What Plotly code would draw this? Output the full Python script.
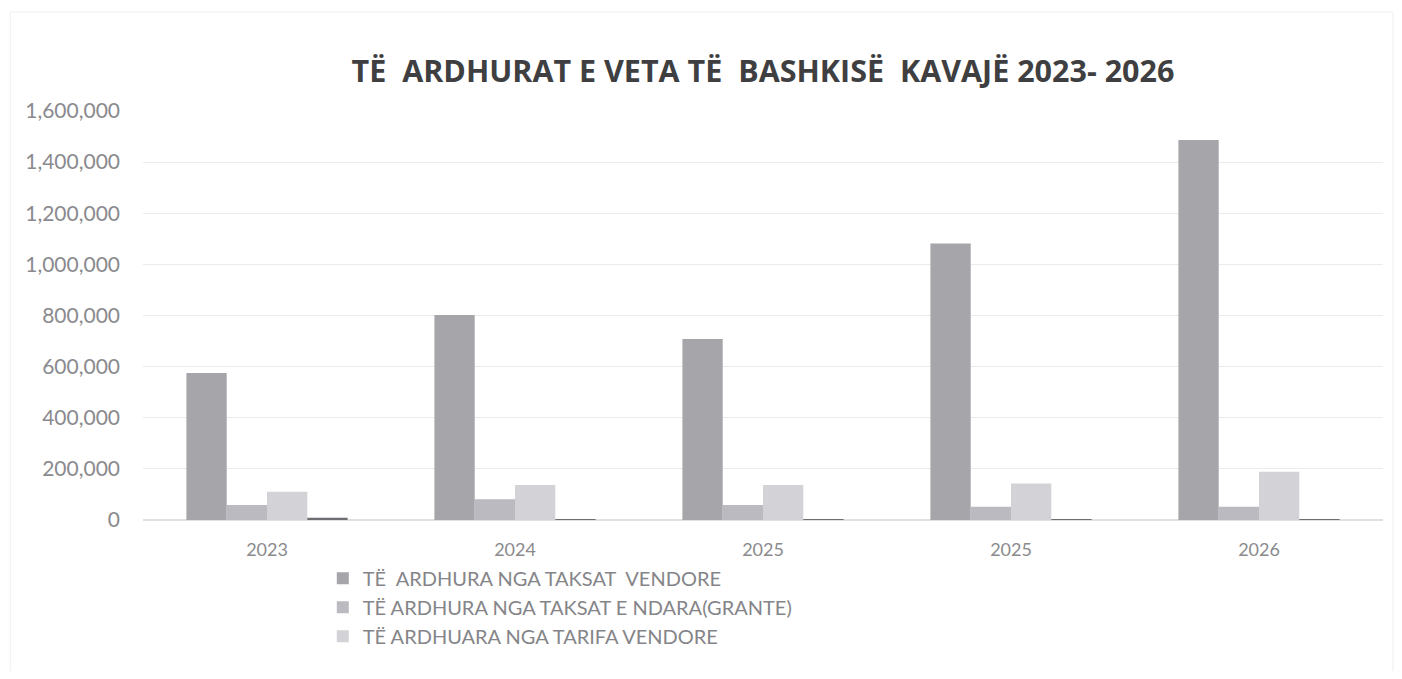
import plotly.graph_objects as go

categories = ["2023", "2024", "2025", "2025", "2026"]
series_names = [
    "TË  ARDHURA NGA TAKSAT  VENDORE",
    "TË ARDHURA NGA TAKSAT E NDARA(GRANTE)",
    "TË ARDHUARA NGA TARIFA VENDORE",
    "",
]
taksat_vendore = [575000, 802000, 708000, 1082000, 1487000]
taksat_ndara = [59000, 81000, 59000, 52000, 52000]
tarifa_vendore = [111000, 137000, 137000, 143000, 189000]
te_tjera = [9000, 3000, 2000, 1500, 2000]
tick_values = [0, 200000, 400000, 600000, 800000, 1000000, 1200000, 1400000, 1600000]

colors = ["#a5a5aa", "#babac0", "#d3d3d7", "#6e6e72"]
all_series = [taksat_vendore, taksat_ndara, tarifa_vendore, te_tjera]
xpos = list(range(len(categories)))

fig = go.Figure()
for i, (name, vals) in enumerate(zip(series_names, all_series)):
    fig.add_trace(go.Bar(
        x=xpos, y=vals, name=name,
        marker=dict(color=colors[i], line=dict(width=0)),
        showlegend=(i < 3),
    ))

font_family = "Lato, 'Open Sans', sans-serif"
fig.update_layout(
    width=1386, height=663,
    paper_bgcolor="#ffffff", plot_bgcolor="#ffffff",
    barmode="group", bargap=0.35, bargroupgap=0,
    margin=dict(l=135, r=11, t=103, b=151),
    title=dict(
        text="<b>TË  ARDHURAT E VETA TË  BASHKISË  KAVAJË 2023- 2026</b>",
        x=0.5, xref="paper", xanchor="center", y=0.904, yanchor="middle",
        font=dict(family="'Open Sans', sans-serif", size=30.5, color="#3f3f42"),
    ),
    font=dict(family=font_family, color="#858589"),
    xaxis=dict(
        tickmode="array", tickvals=xpos, ticktext=categories,
        range=[-0.5, len(categories) - 0.5],
        showgrid=False, zeroline=False, showline=False,
        tickfont=dict(size=18, color="#8a8a8e"), ticks="", ticklabelstandoff=17,
    ),
    yaxis=dict(
        range=[0, 1600000], tickvals=tick_values, tickformat=",d",
        showgrid=True, gridcolor="#ebebee", gridwidth=1,
        zeroline=True, zerolinecolor="#e0e0e3",
        tickfont=dict(size=21, color="#8a8a8e"), ticks="", ticklabelstandoff=22,
    ),
    legend=dict(
        orientation="v", x=0.145, xanchor="left", y=-0.095, yanchor="top",
        bgcolor="rgba(0,0,0,0)", font=dict(size=20, color="#858589"),
        itemwidth=30, tracegroupgap=0,
    ),
    shapes=[dict(type="rect", xref="paper", yref="paper",
                 x0=-0.107, x1=1.008, y0=-0.372, y1=1.242,
                 line=dict(color="#efeff2", width=1))],
)

fig.write_html("out.html")
